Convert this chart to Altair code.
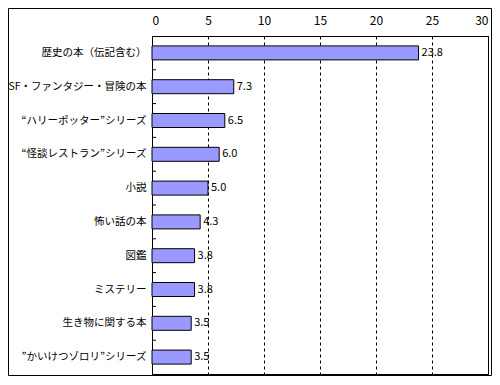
import altair as alt
import pandas as pd

categories = [
    "歴史の本（伝記含む）",
    "SF・ファンタジー・冒険の本",
    "“ハリーポッター”シリーズ",
    "“怪談レストラン”シリーズ",
    "小説",
    "怖い話の本",
    "図鑑",
    "ミステリー",
    "生き物に関する本",
    "”かいけつゾロリ”シリーズ",
]
values = [23.8, 7.3, 6.5, 6.0, 5.0, 4.3, 3.8, 3.8, 3.5, 3.5]
x_ticks = [0, 5, 10, 15, 20, 25, 30]

df = pd.DataFrame({"cat": categories, "val": values})

W, H = 336, 338
FONT = "Noto Sans CJK JP"

ysc = alt.Y("cat:N", sort=categories,
            scale=alt.Scale(paddingInner=0, paddingOuter=0),
            axis=alt.Axis(title=None, ticks=False, domain=False, labelPadding=6,
                          labelFont=FONT, labelFontSize=10.5, labelColor="black",
                          labelLimit=200))
xsc = alt.X("val:Q", scale=alt.Scale(domain=[0, 30], nice=False),
            axis=alt.Axis(orient="top", title=None, values=x_ticks, ticks=False,
                          domain=False, grid=True, gridColor="black",
                          gridDash=[3, 3], gridOpacity=1, gridWidth=1,
                          labelPadding=9, labelFont=FONT, labelFontSize=12,
                          labelColor="black"))

bars = alt.Chart(df).mark_bar(size=14, color="#9999FF", stroke="black",
                              strokeWidth=1).encode(x=xsc, y=ysc)
labels = alt.Chart(df).mark_text(align="left", baseline="middle", dx=3,
                                 font=FONT, fontSize=11, color="black").encode(
    x="val:Q", y=alt.Y("cat:N", sort=categories),
    text=alt.Text("val:Q", format=".1f"))
ticks = alt.Chart(df.iloc[1:]).mark_rule(color="black", yOffset=-H / 20).encode(
    y=alt.Y("cat:N", sort=categories), x=alt.value(0), x2=alt.value(4))
frame = alt.Chart(df.iloc[:1]).mark_rect(filled=False, stroke="black",
                                         strokeWidth=1, clip=False).encode(
    x=alt.value(-143.5), x2=alt.value(W + 3.5),
    y=alt.value(-27.5), y2=alt.value(H + 1.5))

chart = alt.layer(bars, labels, ticks, frame).properties(
    width=W, height=H,
    autosize=alt.AutoSizeParams(type="none"),
    padding={"left": 144, "top": 28, "right": 4, "bottom": 2},
    background="white",
).configure_view(stroke="black", strokeWidth=1)

chart.save("out.html", embed_options={"renderer": "svg", "actions": False})
